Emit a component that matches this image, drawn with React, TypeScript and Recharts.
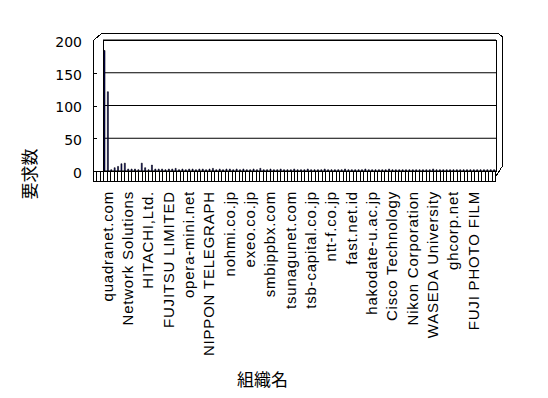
import React from "react";
import * as R from "recharts";

const { BarChart, Bar, XAxis, YAxis, CartesianGrid, Customized } = R as any;

// Visible category labels (every 6th organisation)
const labels: string[] = [
  "quadranet.com",
  "Network Solutions",
  "HITACHI,Ltd.",
  "FUJITSU LIMITED",
  "opera-mini.net",
  "NIPPON TELEGRAPH",
  "nohmi.co.jp",
  "exeo.co.jp",
  "smbippbx.com",
  "tsunagunet.com",
  "tsb-capital.co.jp",
  "ntt-f.co.jp",
  "fast.net.id",
  "hakodate-u.ac.jp",
  "Cisco Technology",
  "Nikon Corporation",
  "WASEDA University",
  "ghcorp.net",
  "FUJI PHOTO FILM",
];
const labelStep = 6;

// 要求数 per organisation (116 organisations)
const values: number[] = [
  184, 121, 2, 5, 7, 11, 12, 3, 3, 3,
  2, 12, 5, 2, 9, 3, 3, 3, 2, 3,
  3, 4, 2, 3, 2, 3, 3, 2, 3, 3,
  2, 3, 4, 2, 3, 2, 3, 3, 2, 3,
  2, 3, 2, 2, 3, 2, 4, 2, 2, 3,
  2, 2, 3, 2, 2, 2, 3, 2, 2, 2,
  3, 2, 2, 2, 2, 3, 2, 2, 2, 2,
  2, 3, 2, 2, 2, 2, 2, 3, 2, 2,
  2, 2, 2, 2, 3, 2, 2, 2, 2, 2,
  2, 2, 2, 2, 2, 2, 2, 3, 2, 2,
  2, 2, 2, 2, 2, 2, 2, 2, 2, 2,
  2, 2, 2, 2, 2, 2,
];
const yTicks: number[] = [0, 50, 100, 150, 200];

const data = values.map((v, i) => ({ idx: i, value: v }));

const W = 548;
const H = 398;
const MARGIN = { top: 40, right: 52, left: 0, bottom: 0 };
const Y_W = 103;
const X_H = 227;

function Frame() {
  const useArea = (R as any).usePlotArea;
  const area = useArea ? useArea() : null;
  const x0 = area?.x ?? MARGIN.left + Y_W;
  const y0 = area?.y ?? MARGIN.top;
  const x1 = x0 + (area?.width ?? W - MARGIN.left - Y_W - MARGIN.right);
  const y1 = y0 + (area?.height ?? H - MARGIN.top - X_H);
  const n = values.length;
  const fl = x0 - 10;
  const fr = x1 - 1;
  const fy = y1 + 10;
  const ticks: JSX.Element[] = [];
  for (let k = 0; k <= n; k++) {
    const x = Math.round(fl + (k * (fr - fl)) / n) + 0.5;
    ticks.push(<line key={k} x1={x} y1={y1} x2={x} y2={fy} stroke="#000" strokeWidth={1} />);
  }
  const h = y1 - y0;
  const gridY = yTicks.slice(1, -1).map((t) => y1 - (t / 200) * h);
  return (
    <g fill="none" stroke="#000" strokeWidth={1} shapeRendering="crispEdges">
      <path
        d={`M${fl + 0.5},${fy + 0.5} L${fl + 0.5},${y0 + 0.5} L${x0 - 1},${y0 - 7} L${x1 + 2},${y0 - 7} L${x1 + 6.5},${y0 - 3} L${x1 + 6.5},${y1 - 5} L${fr + 0.5},${y1 + 6} L${fr + 0.5},${fy + 0.5} Z`}
      />
      <rect x={x0 + 0.5} y={y0 + 0.5} width={x1 - x0} height={y1 - y0} />
      <line x1={fl} y1={y1 + 0.5} x2={x1} y2={y1 + 0.5} />
      {gridY.map((y, i) => (
        <line key={i} x1={fl} y1={Math.round(y) + 0.5} x2={fl + 4} y2={Math.round(y) + 0.5} />
      ))}
      {ticks}
    </g>
  );
}

function CatTick(props: any) {
  const { x, y, payload } = props;
  const i = payload.value as number;
  const label = i % labelStep === 0 ? labels[i / labelStep] ?? "" : "";
  return (
    <text
      transform={`translate(${x + 2.5},${y}) rotate(-90)`}
      textAnchor="end"
      dominantBaseline="central"
      fontSize={15}
      letterSpacing={0.8}
      fontFamily="Liberation Sans"
      fill="#000"
    >
      {label}
    </text>
  );
}

function YTitle(props: any) {
  const vb = props.viewBox || { x: 0, y: 40, width: 103, height: 131 };
  const cx = vb.x + 28;
  const cy = vb.y + vb.height + 3;
  return (
    <text
      transform={`translate(${cx},${cy}) rotate(-90)`}
      textAnchor="middle"
      dominantBaseline="central"
      fontSize={17}
      fontFamily="Noto Sans CJK JP"
      fill="#000"
    >
      要求数
    </text>
  );
}

export default function App() {
  return (
    <div style={{ position: "absolute", left: 0, top: 0, background: "#fff" }}>
      <BarChart width={W} height={H} data={data} margin={MARGIN} barCategoryGap={1}>
        <CartesianGrid horizontal={true} vertical={false} stroke="#000" strokeOpacity={1} />
        <XAxis
          dataKey="idx"
          type="category"
          height={X_H}
          interval={labelStep - 1}
          axisLine={false}
          tickLine={false}
          tickSize={0}
          tickMargin={20}
          tick={<CatTick />}
          label={{
            value: "組織名",
            position: "insideBottom",
            offset: 12,
            dx: -37,
            fontSize: 17,
            fontFamily: "Noto Sans CJK JP",
            fill: "#000",
          }}
        />
        <YAxis
          width={Y_W}
          domain={[0, 200]}
          ticks={yTicks}
          interval={0}
          axisLine={false}
          tickLine={false}
          tickSize={0}
          tickMargin={21}
          tick={{ fontSize: 14, fontFamily: "DejaVu Sans", fill: "#000", dy: 2 }}
          label={{ content: <YTitle /> }}
        />
        <Customized component={<Frame />} />
        <Bar
          dataKey="value"
          fill="#000080"
          stroke="#000"
          strokeWidth={0.6}
          isAnimationActive={false}
        />
      </BarChart>
    </div>
  );
}
